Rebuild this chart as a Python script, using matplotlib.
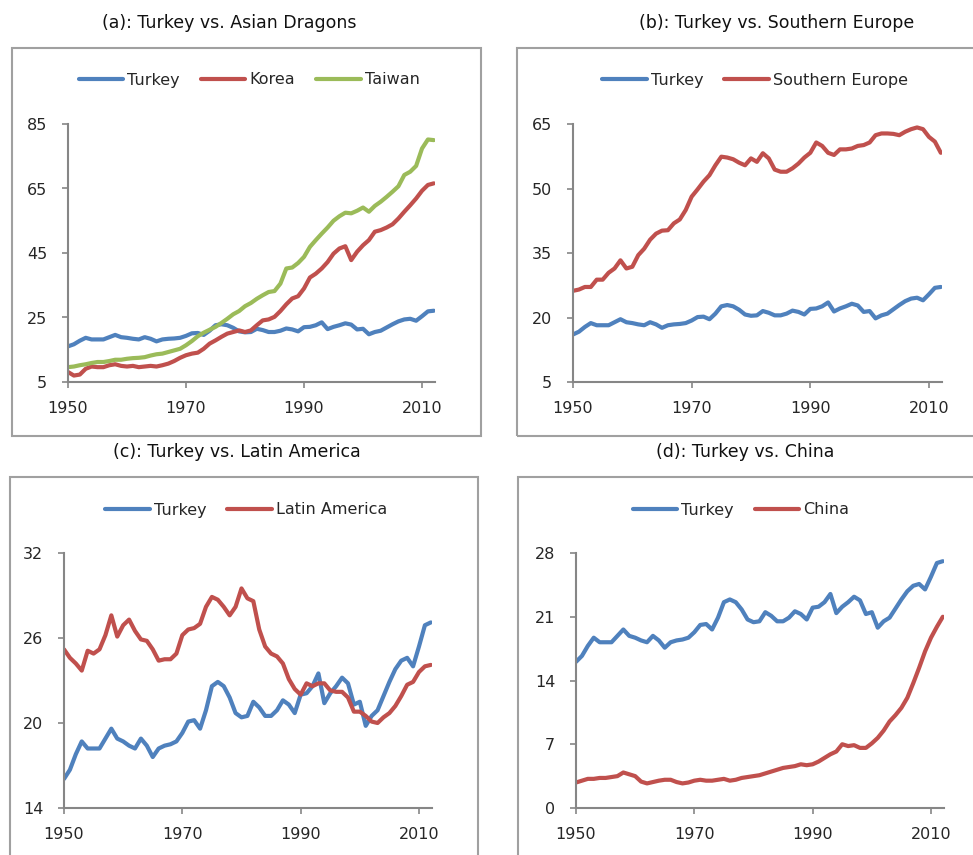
import matplotlib
matplotlib.use("Agg")
import matplotlib.pyplot as plt
from matplotlib.patches import Rectangle
import numpy as np

years = list(range(1950, 2013))

turkey = [16.05, 16.7, 17.8, 18.7, 18.2, 18.2, 18.2, 18.9, 19.6, 18.9,
          18.7, 18.4, 18.2, 18.9, 18.4, 17.6, 18.2, 18.4, 18.5, 18.7,
          19.3, 20.1, 20.2, 19.6, 20.9, 22.6, 22.9, 22.6, 21.8, 20.7,
          20.4, 20.5, 21.5, 21.1, 20.5, 20.5, 20.9, 21.6, 21.3, 20.7,
          22.0, 22.1, 22.6, 23.5, 21.4, 22.1, 22.6, 23.2, 22.8, 21.3,
          21.5, 19.8, 20.5, 20.9, 21.9, 22.9, 23.8, 24.4, 24.6, 24.0,
          25.4, 26.9, 27.1]

korea = [8.1, 7.0, 7.3, 9.1, 9.8, 9.6, 9.6, 10.2, 10.5, 10.0,
         9.8, 10.0, 9.6, 9.8, 10.0, 9.8, 10.2, 10.7, 11.5, 12.5,
         13.3, 13.8, 14.1, 15.3, 16.9, 17.9, 19.0, 20.0, 20.5, 21.0,
         20.5, 21.0, 22.6, 24.1, 24.4, 25.2, 27.0, 29.1, 30.9, 31.6,
         34.0, 37.4, 38.6, 40.2, 42.2, 44.8, 46.4, 47.1, 42.8, 45.4,
         47.4, 49.0, 51.6, 52.1, 52.9, 53.9, 55.7, 57.8, 59.8, 61.9,
         64.3, 66.1, 66.6]

taiwan = [9.6, 9.8, 10.2, 10.5, 10.9, 11.2, 11.2, 11.5, 11.9, 11.9,
          12.2, 12.4, 12.5, 12.7, 13.2, 13.6, 13.8, 14.3, 14.8, 15.3,
          16.4, 17.7, 19.2, 20.3, 21.2, 22.1, 23.3, 24.6, 26.0, 27.0,
          28.5, 29.5, 30.8, 31.9, 32.9, 33.2, 35.5, 40.2, 40.5, 41.9,
          43.8, 46.9, 49.0, 51.0, 52.9, 55.0, 56.4, 57.5, 57.3, 58.1,
          59.1, 57.8, 59.6, 60.9, 62.4, 64.0, 65.7, 69.2, 70.2, 72.0,
          77.4, 80.2, 80.0]

southern_europe = [26.2, 26.5, 27.1, 27.1, 28.8, 28.8, 30.4, 31.4, 33.3, 31.4,
                   31.8, 34.5, 36.0, 38.1, 39.5, 40.2, 40.3, 41.9, 42.8, 45.0,
                   48.1, 49.8, 51.6, 53.1, 55.4, 57.4, 57.2, 56.8, 56.0, 55.4,
                   57.0, 56.2, 58.2, 57.0, 54.4, 53.9, 53.9, 54.7, 55.8, 57.2,
                   58.3, 60.7, 59.9, 58.3, 57.8, 59.1, 59.1, 59.3, 59.9, 60.1,
                   60.7, 62.4, 62.8, 62.8, 62.7, 62.4, 63.2, 63.8, 64.2, 63.8,
                   62.0, 60.9, 58.3]

latin_america = [25.2, 24.6, 24.2, 23.7, 25.1, 24.9, 25.2, 26.2, 27.6, 26.1,
                 26.9, 27.3, 26.5, 25.9, 25.8, 25.2, 24.4, 24.5, 24.5, 24.9,
                 26.2, 26.6, 26.7, 27.0, 28.2, 28.9, 28.7, 28.2, 27.6, 28.2,
                 29.5, 28.8, 28.6, 26.6, 25.4, 24.9, 24.7, 24.2, 23.1, 22.4,
                 22.0, 22.8, 22.6, 22.8, 22.8, 22.3, 22.2, 22.2, 21.8, 20.8,
                 20.8, 20.5, 20.1, 20.0, 20.4, 20.7, 21.2, 21.9, 22.7, 22.9,
                 23.6, 24.0, 24.1]

china = [2.8, 3.0, 3.2, 3.2, 3.3, 3.3, 3.4, 3.5, 3.9, 3.7,
         3.5, 2.9, 2.7, 2.85, 3.0, 3.1, 3.1, 2.85, 2.7, 2.8,
         3.0, 3.1, 3.0, 3.0, 3.1, 3.2, 3.0, 3.1, 3.3, 3.4,
         3.5, 3.6, 3.8, 4.0, 4.2, 4.4, 4.5, 4.6, 4.8, 4.7,
         4.8, 5.1, 5.5, 5.9, 6.2, 7.0, 6.8, 6.9, 6.6, 6.6,
         7.1, 7.7, 8.5, 9.5, 10.2, 11.0, 12.1, 13.7, 15.4, 17.2,
         18.7, 19.9, 21.0]

x_ticks = [1950, 1970, 1990, 2010]
titles = ["(a): Turkey vs. Asian Dragons", "(b): Turkey vs. Southern Europe",
          "(c): Turkey vs. Latin America", "(d): Turkey vs. China"]

BLUE = "#4F81BD"
RED = "#C0504D"
GREEN = "#9BBB59"
AXC = "#868686"
TXT = "#262626"

W, H = 973, 855
fig = plt.figure(figsize=(W / 100, H / 100), dpi=100)

def fx(px):
    return px / W

def fy(py):
    return 1 - py / H

# chart boxes
boxes = [(12, 48, 481, 436), (517, 48, 980, 436), (10, 477, 478, 870), (518, 477, 980, 870)]
for (x0, y0, x1, y1) in boxes:
    fig.patches.append(Rectangle((fx(x0), fy(y1)), fx(x1 - x0), (y1 - y0) / H,
                                 transform=fig.transFigure, fill=False,
                                 edgecolor="#A0A0A0", lw=1.5, zorder=0))

title_pos = [(229, 23), (777, 23), (237, 452), (745, 452)]
for t, (cx, cy) in zip(titles, title_pos):
    fig.text(fx(cx), fy(cy), t, ha="center", va="center", fontsize=12.5,
             family=["Liberation Sans Narrow", "DejaVu Sans"], color="#111111")

panels = [
    dict(rect=(68, 124, 435, 382), ylim=(5, 85), yt=[5, 25, 45, 65, 85],
         series=[("Turkey", turkey, BLUE), ("Korea", korea, RED), ("Taiwan", taiwan, GREEN)],
         leg=(249, 80)),
    dict(rect=(573, 124, 942, 382), ylim=(5, 65), yt=[5, 20, 35, 50, 65],
         series=[("Turkey", turkey, BLUE), ("Southern Europe", southern_europe, RED)],
         leg=(755, 80)),
    dict(rect=(64, 553, 432, 808), ylim=(14, 32), yt=[14, 20, 26, 32],
         series=[("Turkey", turkey, BLUE), ("Latin America", latin_america, RED)],
         leg=(246, 510)),
    dict(rect=(576, 553, 944, 808), ylim=(0, 28), yt=[0, 7, 14, 21, 28],
         series=[("Turkey", turkey, BLUE), ("China", china, RED)],
         leg=(741, 510)),
]

for p in panels:
    x0, y0, x1, y1 = p["rect"]
    ax = fig.add_axes([fx(x0), fy(y1), fx(x1 - x0), (y1 - y0) / H])
    handles = []
    for name, vals, col in p["series"]:
        h, = ax.plot(years, vals, color=col, lw=3.0, solid_capstyle="round",
                     solid_joinstyle="round", label=name)
        handles.append(h)
    ax.set_xlim(1950, 2012.2)
    ax.set_ylim(*p["ylim"])
    ax.set_xticks(x_ticks)
    ax.set_yticks(p["yt"])
    for s in ["top", "right"]:
        ax.spines[s].set_visible(False)
    for s in ["left", "bottom"]:
        ax.spines[s].set_color(AXC)
        ax.spines[s].set_linewidth(1.5)
    ax.tick_params(axis="both", colors=AXC, labelcolor=TXT, labelsize=11.5,
                   length=4, width=1.2, direction="out")
    ax.tick_params(axis="y", pad=11)
    ax.tick_params(axis="x", pad=10)
    ax.patch.set_alpha(0)
    cx, cy = p["leg"]
    fig.legend(handles=handles, loc="center", bbox_to_anchor=(fx(cx), fy(cy)),
               ncol=len(handles), frameon=False, fontsize=11.5,
               handlelength=2.8, handletextpad=0.25, columnspacing=1.3,
               labelcolor=TXT)

fig.savefig("out.png", dpi=100)
